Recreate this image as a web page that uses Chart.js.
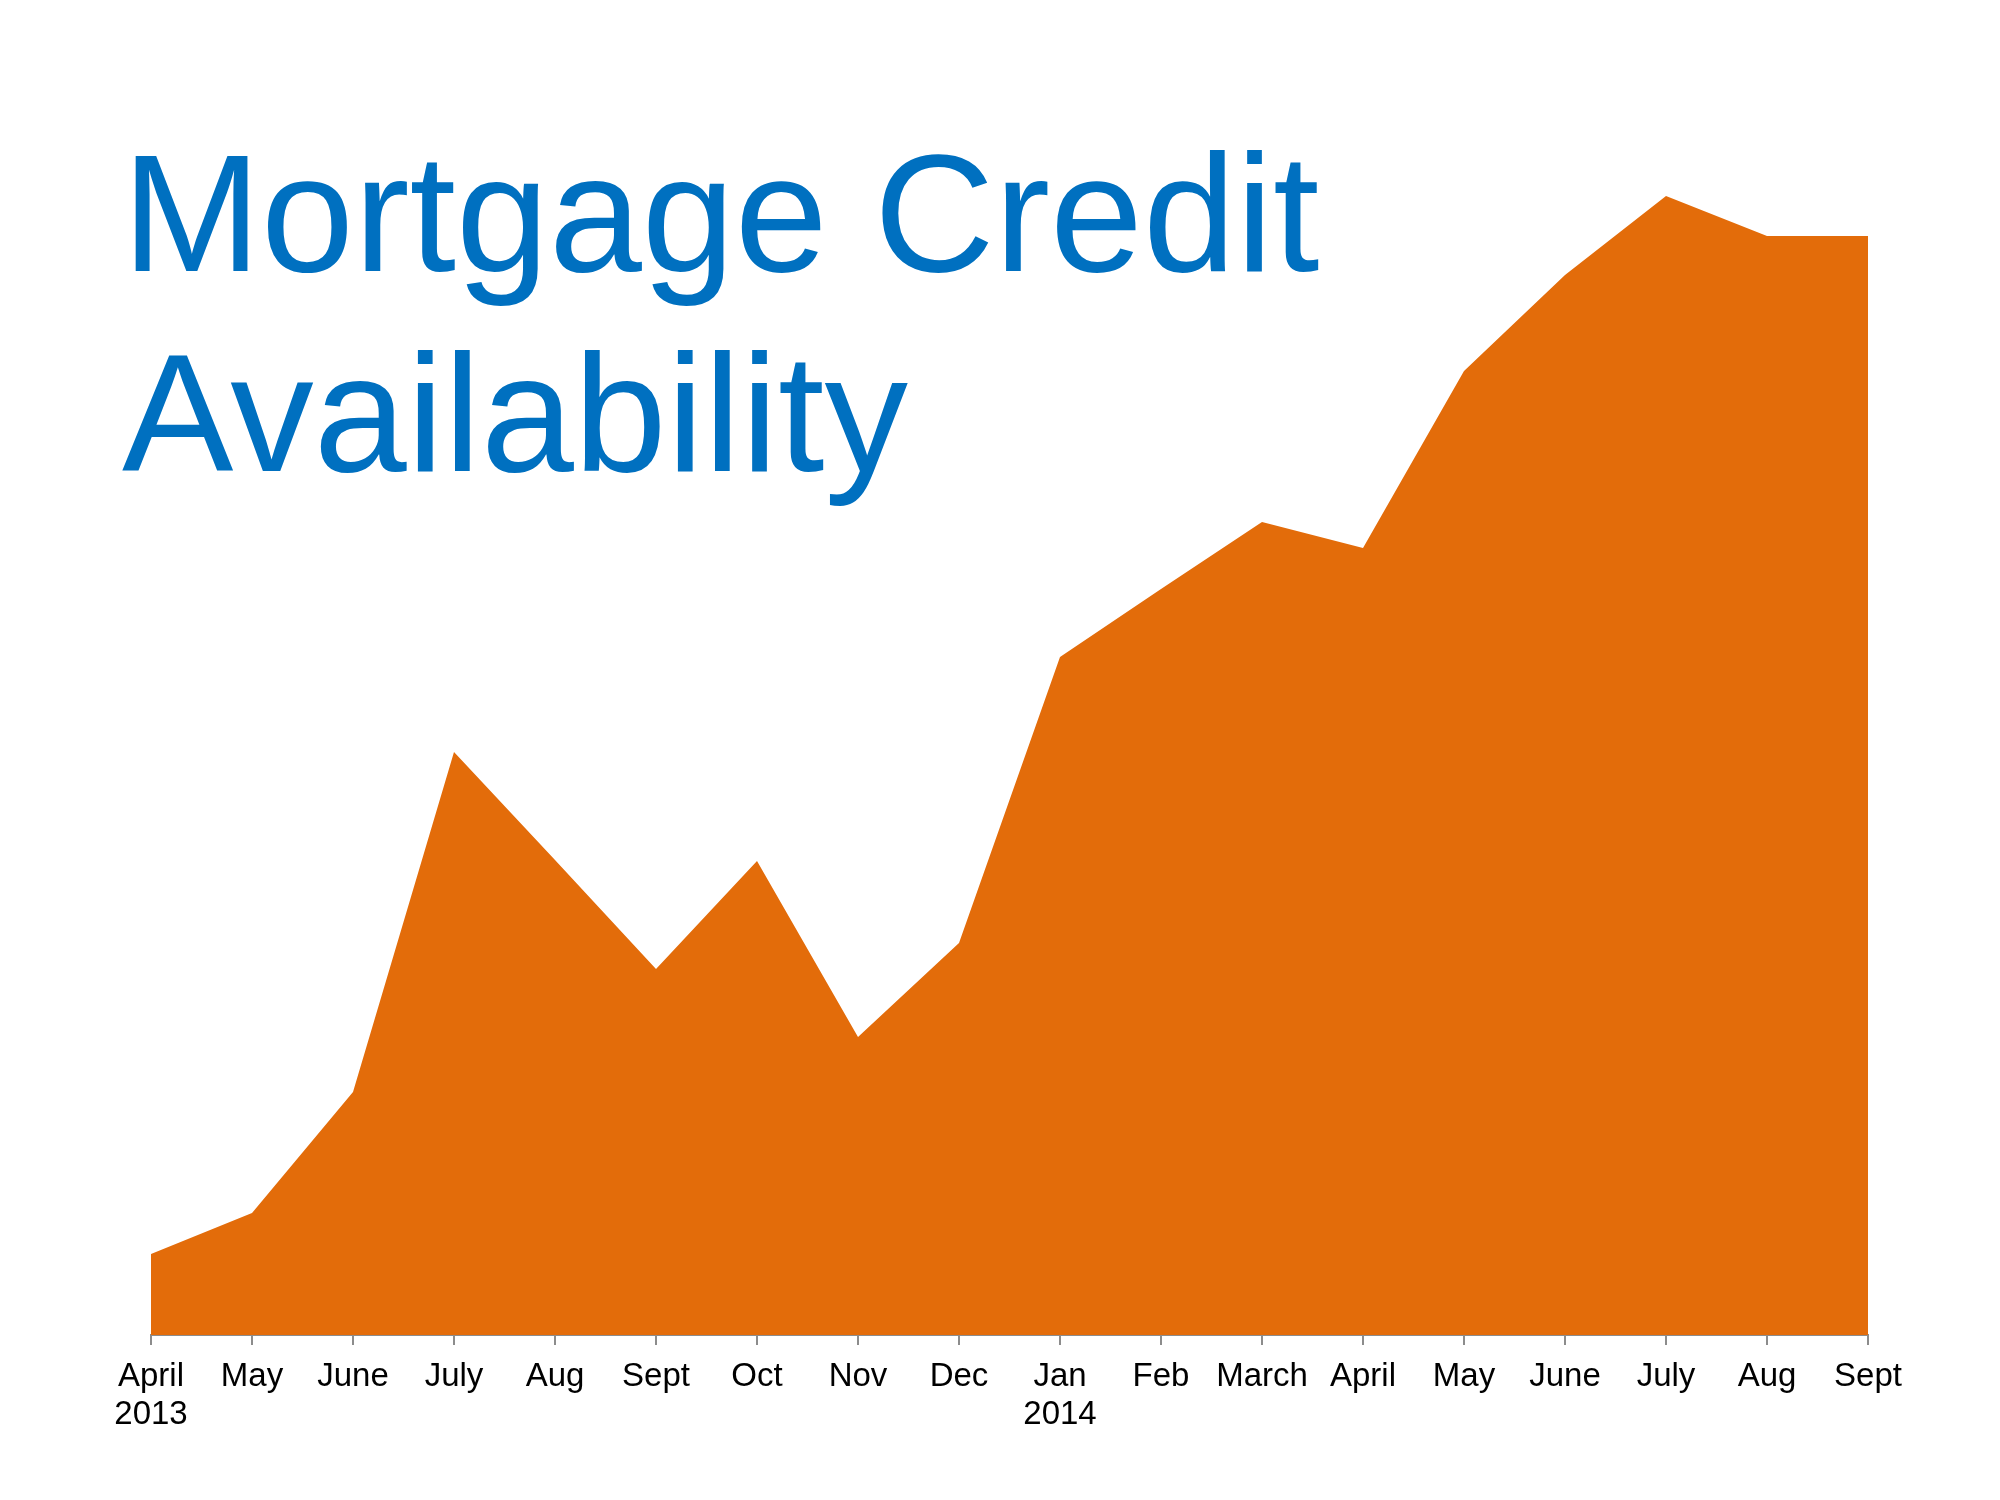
<!DOCTYPE html>
<html>
<head>
<meta charset="utf-8">
<script src="https://cdn.jsdelivr.net/npm/chart.js@4/dist/chart.umd.min.js"></script>
<style>
  html, body { margin: 0; padding: 0; background: #ffffff; }
  #wrap { position: relative; width: 2000px; height: 1500px; }
  #title {
    position: absolute; left: 122px; top: 113px;
    font-family: "Liberation Sans", Arial, sans-serif;
    font-size: 167px; line-height: 200px; color: #0070C0;
    pointer-events: none; white-space: nowrap; z-index: 2;
  }
  canvas { position: absolute; left: 0; top: 0; }
</style>
</head>
<body>
<div id="wrap">
  <canvas id="c" width="2000" height="1500"></canvas>
  <div id="title">Mortgage Credit<br>Availability</div>
</div>
<script>
// Categories (months, April 2013 – September 2014)
const months = ["April", "May", "June", "July", "Aug", "Sept", "Oct", "Nov", "Dec",
                "Jan", "Feb", "March", "April", "May", "June", "July", "Aug", "Sept"];
// Year sub-labels shown under the first month of each year
const yearLabels = ["2013", "", "", "", "", "", "", "", "",
                    "2014", "", "", "", "", "", "", "", ""];
// Relative credit availability (arbitrary units, no axis shown)
const availability = [8.1, 12.2, 24.3, 58.3, 47.5, 36.6, 47.4, 29.8, 39.2,
                      67.8, 74.6, 81.3, 78.7, 96.4, 106.0, 113.9, 109.9, 109.9];

const labels = months.map((m, i) => yearLabels[i] ? [m, yearLabels[i]] : m);

new Chart(document.getElementById('c'), {
  type: 'line',
  data: {
    labels: labels,
    datasets: [{
      data: availability,
      fill: 'origin',
      backgroundColor: '#E36C0A',
      borderColor: '#E36C0A',
      borderWidth: 0,
      pointRadius: 0,
      tension: 0
    }]
  },
  options: {
    responsive: false,
    animation: false,
    devicePixelRatio: 1,
    layout: { padding: { left: 151, right: 132, top: 135, bottom: 0 } },
    plugins: { legend: { display: false }, title: { display: false }, tooltip: { enabled: false } },
    scales: {
      x: {
        offset: false,
        afterFit: (scale) => { scale.height = 165; },
        grid: { display: true, drawOnChartArea: false, drawTicks: true, tickLength: 10, color: '#8c8c8c', lineWidth: 2 },
        border: { display: true, color: '#8c8c8c', width: 2 },
        ticks: {
          color: '#000000', maxRotation: 0, autoSkip: false, padding: 13,
          font: { family: '"Liberation Sans", Arial, sans-serif', size: 33, lineHeight: 1.15 }
        }
      },
      y: {
        display: false,
        min: 0,
        max: 120
      }
    }
  }
});
</script>
</body>
</html>
